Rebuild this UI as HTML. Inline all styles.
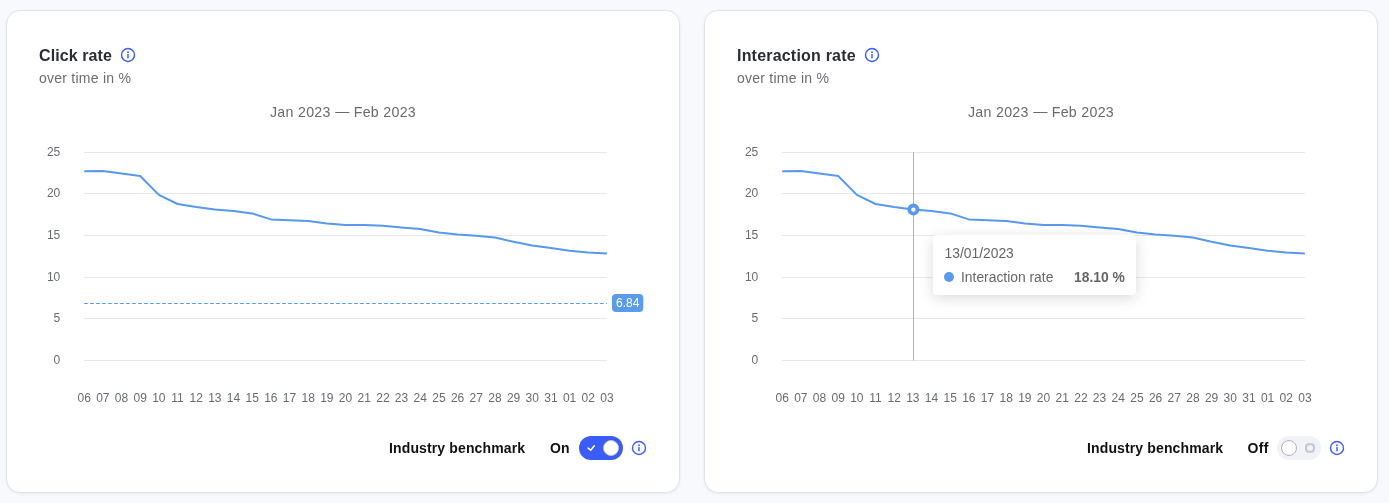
<!DOCTYPE html>
<html><head><meta charset="utf-8"><title>Rates</title><style>
html,body{margin:0;padding:0}
body{width:1389px;height:503px;background:#f7f9fc;position:relative;overflow:hidden;font-family:"Liberation Sans",sans-serif}
.card{position:absolute;top:10px;width:672px;height:481px;background:#fff;border:1px solid #e0e4e9;border-radius:14px;box-shadow:0 1px 3px rgba(20,25,50,.06)}
.card>*{position:absolute}
.chart{left:-1px;top:-1px}
.ax{font:12px "Liberation Sans",sans-serif;fill:#696b73}
.bd{font:12px "Liberation Sans",sans-serif;fill:#fff}
.title{left:32px;top:35px;font-weight:bold;font-size:16px;line-height:20px;color:#2a2d35;white-space:nowrap}
.sub{left:32px;top:57px;font-size:14px;line-height:20px;color:#6c6d72;letter-spacing:.25px;white-space:nowrap}
.range{left:0;width:672px;text-align:center;top:91px;font-size:14.2px;letter-spacing:.3px;line-height:20px;color:#6a6a6a;white-space:nowrap}
.range span{position:relative;top:-1.2px;left:.3px}
.ib{left:382px;top:427px;font-weight:bold;font-size:14px;line-height:20px;color:#111;letter-spacing:.13px;white-space:nowrap}
.st{left:543px;top:427px;font-weight:bold;font-size:14px;line-height:20px;color:#111;white-space:nowrap}
.tg{left:572px;top:425px;width:44px;height:24px;border-radius:12px}
.tg.on{background:#3b5cf6}
.tg.on svg{position:absolute;left:7.5px;top:8.3px}
.tg.on i{position:absolute;left:24px;top:4px;width:16px;height:16px;border-radius:50%;background:#fff;box-sizing:border-box;border:1px solid #c9c7c0}
.tg.off{background:#f2f3f8}
.tg.off i{position:absolute;left:3.8px;top:4px;width:16px;height:16px;border-radius:50%;background:#fff;box-sizing:border-box;border:1px solid #b4b4b4}
.tg.off svg{position:absolute;left:26.9px;top:6.1px}
.info{overflow:visible}
.tip{left:228px;top:224px;width:203px;height:59.5px;background:#fff;border-radius:3px;box-shadow:0 3px 14px rgba(0,0,0,.15);font-size:13.85px;color:#666}
.tip>*{position:absolute;white-space:nowrap;line-height:16px}
.tip .d{left:11.5px;top:9.8px}
.tip .r{left:0;top:34.2px;width:100%}
.tip .dot{position:absolute;left:11px;top:3.3px;width:10px;height:10px;border-radius:50%;background:#5b9bec}
.tip .n{position:absolute;left:28px;top:0}
.tip .v{position:absolute;left:141px;top:0;font-weight:bold}
</style></head><body>
<div class="card" style="left:6px">
<svg class="chart" width="674" height="482" viewBox="6 10 674 482">
<rect x="84" y="152" width="523" height="1" fill="#e8e8e8"/>
<text x="60.3" y="156.2" text-anchor="end" class="ax">25</text>
<rect x="84" y="193" width="523" height="1" fill="#e8e8e8"/>
<text x="60.3" y="197.2" text-anchor="end" class="ax">20</text>
<rect x="84" y="235" width="523" height="1" fill="#e8e8e8"/>
<text x="60.3" y="239.2" text-anchor="end" class="ax">15</text>
<rect x="84" y="277" width="523" height="1" fill="#e8e8e8"/>
<text x="60.3" y="281.2" text-anchor="end" class="ax">10</text>
<rect x="84" y="318" width="523" height="1" fill="#e8e8e8"/>
<text x="60.3" y="322.2" text-anchor="end" class="ax">5</text>
<rect x="84" y="360" width="523" height="1" fill="#e8e8e8"/>
<text x="60.3" y="364.2" text-anchor="end" class="ax">0</text>
<text x="84.20" y="402" text-anchor="middle" class="ax">06</text>
<text x="102.87" y="402" text-anchor="middle" class="ax">07</text>
<text x="121.54" y="402" text-anchor="middle" class="ax">08</text>
<text x="140.20" y="402" text-anchor="middle" class="ax">09</text>
<text x="158.87" y="402" text-anchor="middle" class="ax">10</text>
<text x="177.54" y="402" text-anchor="middle" class="ax">11</text>
<text x="196.21" y="402" text-anchor="middle" class="ax">12</text>
<text x="214.88" y="402" text-anchor="middle" class="ax">13</text>
<text x="233.54" y="402" text-anchor="middle" class="ax">14</text>
<text x="252.21" y="402" text-anchor="middle" class="ax">15</text>
<text x="270.88" y="402" text-anchor="middle" class="ax">16</text>
<text x="289.55" y="402" text-anchor="middle" class="ax">17</text>
<text x="308.21" y="402" text-anchor="middle" class="ax">18</text>
<text x="326.88" y="402" text-anchor="middle" class="ax">19</text>
<text x="345.55" y="402" text-anchor="middle" class="ax">20</text>
<text x="364.22" y="402" text-anchor="middle" class="ax">21</text>
<text x="382.89" y="402" text-anchor="middle" class="ax">22</text>
<text x="401.55" y="402" text-anchor="middle" class="ax">23</text>
<text x="420.22" y="402" text-anchor="middle" class="ax">24</text>
<text x="438.89" y="402" text-anchor="middle" class="ax">25</text>
<text x="457.56" y="402" text-anchor="middle" class="ax">26</text>
<text x="476.22" y="402" text-anchor="middle" class="ax">27</text>
<text x="494.89" y="402" text-anchor="middle" class="ax">28</text>
<text x="513.56" y="402" text-anchor="middle" class="ax">29</text>
<text x="532.23" y="402" text-anchor="middle" class="ax">30</text>
<text x="550.90" y="402" text-anchor="middle" class="ax">31</text>
<text x="569.56" y="402" text-anchor="middle" class="ax">01</text>
<text x="588.23" y="402" text-anchor="middle" class="ax">02</text>
<text x="606.90" y="402" text-anchor="middle" class="ax">03</text>
<line x1="84.2" y1="303.5" x2="606.9" y2="303.5" stroke="#4f95ee" stroke-width="1" stroke-dasharray="3.5 2.5"/>
<rect x="612" y="294" width="31.3" height="18" rx="4" fill="#5b9bec"/>
<text x="627.8" y="307.2" text-anchor="middle" class="bd">6.84</text>
<polyline points="84.20,171.3 102.87,171.0 121.54,173.6 140.20,176.0 158.87,194.9 177.54,204.0 196.21,207.0 214.88,209.5 233.54,210.9 252.21,213.4 270.88,219.4 289.55,220.3 308.21,221.0 326.88,223.4 345.55,224.9 364.22,224.9 382.89,225.8 401.55,227.5 420.22,229.0 438.89,232.4 457.56,234.4 476.22,235.8 494.89,237.5 513.56,241.8 532.23,245.6 550.90,248.1 569.56,250.7 588.23,252.4 606.90,253.6" fill="none" stroke="#5898ed" stroke-width="2" stroke-linejoin="round" stroke-linecap="butt"/>
</svg>
<div class="title" style="letter-spacing:0.1px">Click rate</div>
<svg class="info" style="left:113.1px;top:36.3px" width="16" height="16" viewBox="0 0 16 16"><circle cx="8" cy="8" r="6.5" fill="none" stroke="#3b5cf6" stroke-width="1.4"/><circle cx="8" cy="5.3" r="0.95" fill="#3b5cf6"/><rect x="7.25" y="7.1" width="1.5" height="4.2" rx="0.5" fill="#3b5cf6"/></svg>
<div class="sub">over time in %</div>
<div class="range">Jan 2023 <span>—</span> Feb 2023</div>
<div class="ib">Industry benchmark</div>
<div class="st">On</div>
<div class="tg on"><svg width="10" height="8" viewBox="0 0 10 8"><path d="M1.1 4.1 L3.7 6.2 L7.3 1.7" fill="none" stroke="#fff" stroke-width="1.5" stroke-linecap="round" stroke-linejoin="round"/></svg><i></i></div>
<svg class="info" style="left:623.8px;top:428.8px" width="16" height="16" viewBox="0 0 16 16"><circle cx="8" cy="8" r="6.5" fill="none" stroke="#3b5cf6" stroke-width="1.4"/><circle cx="8" cy="5.3" r="0.95" fill="#3b5cf6"/><rect x="7.25" y="7.1" width="1.5" height="4.2" rx="0.5" fill="#3b5cf6"/></svg>
</div>
<div class="card" style="left:704px">
<svg class="chart" width="674" height="482" viewBox="6 10 674 482">
<rect x="84" y="152" width="523" height="1" fill="#e8e8e8"/>
<text x="60.3" y="156.2" text-anchor="end" class="ax">25</text>
<rect x="84" y="193" width="523" height="1" fill="#e8e8e8"/>
<text x="60.3" y="197.2" text-anchor="end" class="ax">20</text>
<rect x="84" y="235" width="523" height="1" fill="#e8e8e8"/>
<text x="60.3" y="239.2" text-anchor="end" class="ax">15</text>
<rect x="84" y="277" width="523" height="1" fill="#e8e8e8"/>
<text x="60.3" y="281.2" text-anchor="end" class="ax">10</text>
<rect x="84" y="318" width="523" height="1" fill="#e8e8e8"/>
<text x="60.3" y="322.2" text-anchor="end" class="ax">5</text>
<rect x="84" y="360" width="523" height="1" fill="#e8e8e8"/>
<text x="60.3" y="364.2" text-anchor="end" class="ax">0</text>
<text x="84.20" y="402" text-anchor="middle" class="ax">06</text>
<text x="102.87" y="402" text-anchor="middle" class="ax">07</text>
<text x="121.54" y="402" text-anchor="middle" class="ax">08</text>
<text x="140.20" y="402" text-anchor="middle" class="ax">09</text>
<text x="158.87" y="402" text-anchor="middle" class="ax">10</text>
<text x="177.54" y="402" text-anchor="middle" class="ax">11</text>
<text x="196.21" y="402" text-anchor="middle" class="ax">12</text>
<text x="214.88" y="402" text-anchor="middle" class="ax">13</text>
<text x="233.54" y="402" text-anchor="middle" class="ax">14</text>
<text x="252.21" y="402" text-anchor="middle" class="ax">15</text>
<text x="270.88" y="402" text-anchor="middle" class="ax">16</text>
<text x="289.55" y="402" text-anchor="middle" class="ax">17</text>
<text x="308.21" y="402" text-anchor="middle" class="ax">18</text>
<text x="326.88" y="402" text-anchor="middle" class="ax">19</text>
<text x="345.55" y="402" text-anchor="middle" class="ax">20</text>
<text x="364.22" y="402" text-anchor="middle" class="ax">21</text>
<text x="382.89" y="402" text-anchor="middle" class="ax">22</text>
<text x="401.55" y="402" text-anchor="middle" class="ax">23</text>
<text x="420.22" y="402" text-anchor="middle" class="ax">24</text>
<text x="438.89" y="402" text-anchor="middle" class="ax">25</text>
<text x="457.56" y="402" text-anchor="middle" class="ax">26</text>
<text x="476.22" y="402" text-anchor="middle" class="ax">27</text>
<text x="494.89" y="402" text-anchor="middle" class="ax">28</text>
<text x="513.56" y="402" text-anchor="middle" class="ax">29</text>
<text x="532.23" y="402" text-anchor="middle" class="ax">30</text>
<text x="550.90" y="402" text-anchor="middle" class="ax">31</text>
<text x="569.56" y="402" text-anchor="middle" class="ax">01</text>
<text x="588.23" y="402" text-anchor="middle" class="ax">02</text>
<text x="606.90" y="402" text-anchor="middle" class="ax">03</text>
<rect x="215" y="152" width="1" height="208.5" fill="#a9afc6"/>
<polyline points="84.20,171.3 102.87,171.0 121.54,173.6 140.20,176.0 158.87,194.9 177.54,204.0 196.21,207.0 214.88,209.5 233.54,210.9 252.21,213.4 270.88,219.4 289.55,220.3 308.21,221.0 326.88,223.4 345.55,224.9 364.22,224.9 382.89,225.8 401.55,227.5 420.22,229.0 438.89,232.4 457.56,234.4 476.22,235.8 494.89,237.5 513.56,241.8 532.23,245.6 550.90,248.1 569.56,250.7 588.23,252.4 606.90,253.6" fill="none" stroke="#5898ed" stroke-width="2" stroke-linejoin="round" stroke-linecap="butt"/>
<circle cx="215.4" cy="209.6" r="4.1" fill="#fff" stroke="#5898ed" stroke-width="3.8"/>
</svg>
<div class="title" style="letter-spacing:0.2px">Interaction rate</div>
<svg class="info" style="left:159px;top:36.3px" width="16" height="16" viewBox="0 0 16 16"><circle cx="8" cy="8" r="6.5" fill="none" stroke="#3b5cf6" stroke-width="1.4"/><circle cx="8" cy="5.3" r="0.95" fill="#3b5cf6"/><rect x="7.25" y="7.1" width="1.5" height="4.2" rx="0.5" fill="#3b5cf6"/></svg>
<div class="sub">over time in %</div>
<div class="range">Jan 2023 <span>—</span> Feb 2023</div>
<div class="ib">Industry benchmark</div>
<div class="st" style="left:542.4px;letter-spacing:.45px">Off</div>
<div class="tg off"><i></i><svg width="12" height="12" viewBox="0 0 12 12"><rect x="2" y="2.35" width="8" height="7.3" rx="2.9" fill="none" stroke="#c3c6ce" stroke-width="2"/></svg></div>
<div class="tip"><div class="d">13/01/2023</div><div class="r"><span class="dot"></span><span class="n">Interaction rate</span><span class="v">18.10 %</span></div></div>
<svg class="info" style="left:623.8px;top:428.8px" width="16" height="16" viewBox="0 0 16 16"><circle cx="8" cy="8" r="6.5" fill="none" stroke="#3b5cf6" stroke-width="1.4"/><circle cx="8" cy="5.3" r="0.95" fill="#3b5cf6"/><rect x="7.25" y="7.1" width="1.5" height="4.2" rx="0.5" fill="#3b5cf6"/></svg>
</div>
</body></html>
